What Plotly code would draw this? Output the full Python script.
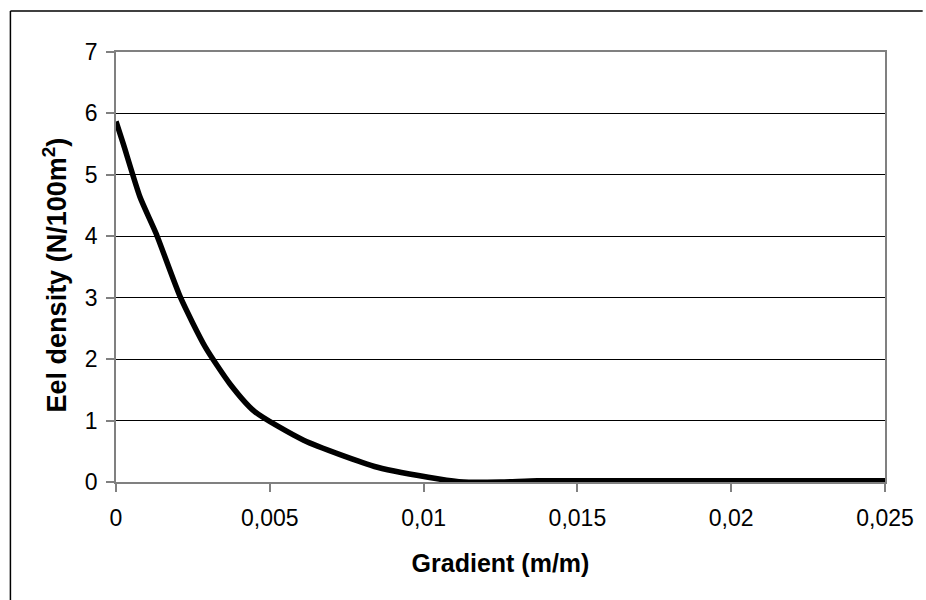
import plotly.graph_objects as go

gradient = [0, 0.00024, 0.00078, 0.0013, 0.0021, 0.0029, 0.0037, 0.0045, 0.0061,
            0.0085, 0.0105, 0.0113, 0.0125, 0.0137, 0.016, 0.02, 0.025]
density = [5.87, 5.5, 4.64, 4.05, 3.0, 2.2, 1.6, 1.15, 0.68,
           0.24, 0.05, 0.0, 0.0, 0.02, 0.02, 0.02, 0.02]

x_ticks = [0, 0.005, 0.01, 0.015, 0.02, 0.025]
x_labels = ["0", "0,005", "0,01", "0,015", "0,02", "0,025"]
y_ticks = [0, 1, 2, 3, 4, 5, 6, 7]

FONT = "Liberation Sans, Arial, sans-serif"

fig = go.Figure()
fig.add_trace(go.Scatter(
    x=gradient, y=density, mode="lines",
    line=dict(color="black", width=5.5, shape="spline", smoothing=0.6),
    cliponaxis=False, showlegend=False,
))

fig.update_layout(
    width=926, height=600,
    margin=dict(l=116, r=38, t=52, b=118),
    paper_bgcolor="white", plot_bgcolor="white",
    font=dict(family=FONT, color="black", size=23),
    xaxis=dict(
        range=[0, 0.0250001], tickvals=x_ticks, ticktext=x_labels,
        showgrid=False, zeroline=False,
        showline=True, linecolor="#808080", linewidth=1.5, mirror=True,
        ticks="outside", ticklen=8, tickcolor="#808080", tickwidth=1.5,
        ticklabelstandoff=7,
        tickfont=dict(size=23),
        title=dict(text="<b>Gradient (m/m)</b>", font=dict(size=25), standoff=24),
    ),
    yaxis=dict(
        range=[0, 7], tickvals=y_ticks,
        showgrid=True, gridcolor="black", gridwidth=1,
        zeroline=False,
        showline=True, linecolor="#808080", linewidth=1.5, mirror=True,
        ticks="outside", ticklen=8, tickcolor="#808080", tickwidth=1.5,
        ticklabelstandoff=4,
        tickfont=dict(size=23),
    ),
    annotations=[dict(
        text="<b>Eel density (N/100m<sup>2</sup>)</b>", textangle=-90,
        xref="paper", yref="paper", x=-0.079, y=0.481,
        xanchor="center", yanchor="middle", showarrow=False,
        font=dict(size=27, family=FONT, color="black"),
    )],
    shapes=[
        dict(type="line", xref="paper", yref="paper",
             x0=-0.1373, y0=1.0953, x1=1.049, y1=1.0953,
             line=dict(color="black", width=1.5), layer="above"),
        dict(type="line", xref="paper", yref="paper",
             x0=-0.1373, y0=-0.28, x1=-0.1373, y1=1.0953,
             line=dict(color="black", width=1.5), layer="above"),
    ],
)

fig.write_html("out.html", config={"displayModeBar": False},
               post_script="document.body.style.margin='0';document.body.style.overflow='hidden';")
